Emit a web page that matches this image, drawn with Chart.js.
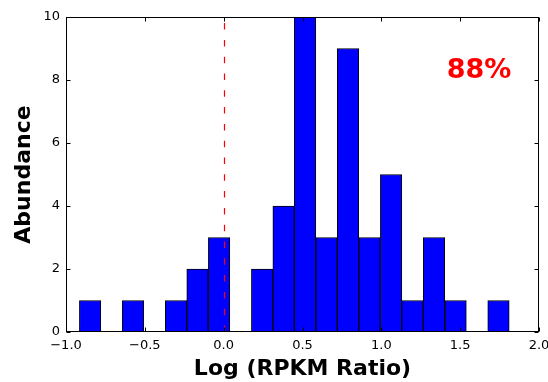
<!DOCTYPE html>
<html>
<head>
<meta charset="utf-8">
<script src="https://cdn.jsdelivr.net/npm/chart.js@4.4.1/dist/chart.umd.min.js"></script>
<style>
  html, body { margin: 0; padding: 0; background: #fff; }
  #wrap { width: 548px; height: 382px; }
</style>
</head>
<body>
<div id="wrap"><canvas id="hist"></canvas></div>
<script>
// histogram bin centres (log RPKM ratio) and counts per bin
var binCenters = [-0.847, -0.711, -0.575, -0.438, -0.302, -0.166, -0.029, 0.107, 0.244, 0.380,
                  0.516, 0.653, 0.789, 0.925, 1.062, 1.198, 1.334, 1.471, 1.607, 1.743];
var binCounts = [1, 0, 1, 0, 1, 2, 3, 0, 2, 4,
                 10, 3, 9, 3, 5, 1, 3, 1, 0, 1];
var xTicks = [-1.0, -0.5, 0.0, 0.5, 1.0, 1.5, 2.0];
var yTicks = [0, 2, 4, 6, 8, 10];
var cutoff = 0.0;
var percentLabel = '88%';

var FONT = "'DejaVu Sans', sans-serif";

function fmtTick(v) {
    return (v < 0 ? '\u2212' : '') + Math.abs(v).toFixed(1);
}

// frame, inward ticks, cutoff line and the percentage label
var decorations = {
    id: 'decorations',
    afterDraw: function (chart) {
        var ctx = chart.ctx;
        var a = chart.chartArea;
        var xs = chart.scales.x, ys = chart.scales.y;
        var L = a.left + 0.5, R = a.right - 0.5, T = a.top + 0.5, B = a.bottom - 0.5;
        ctx.save();

        // dashed cutoff line
        var cx = Math.round(xs.getPixelForValue(cutoff)) + 0.5;
        ctx.strokeStyle = '#ff0000';
        ctx.lineWidth = 1.2;
        ctx.setLineDash([6.5, 10.3]);
        ctx.beginPath();
        ctx.moveTo(cx, a.bottom);
        ctx.lineTo(cx, a.top);
        ctx.stroke();
        ctx.setLineDash([]);

        // box
        ctx.strokeStyle = '#000';
        ctx.lineWidth = 1;
        ctx.strokeRect(L, T, R - L, B - T);

        // inward ticks on all four sides
        ctx.beginPath();
        xTicks.forEach(function (v) {
            var px = Math.round(xs.getPixelForValue(v)) + 0.5;
            ctx.moveTo(px, B); ctx.lineTo(px, B - 4);
            ctx.moveTo(px, T); ctx.lineTo(px, T + 4);
        });
        yTicks.forEach(function (v) {
            var py = Math.round(ys.getPixelForValue(v)) + 0.5;
            ctx.moveTo(L, py); ctx.lineTo(L + 4, py);
            ctx.moveTo(R, py); ctx.lineTo(R - 4, py);
        });
        ctx.stroke();

        // percentage label
        ctx.fillStyle = '#ff0000';
        ctx.font = 'bold 27px ' + FONT;
        ctx.textAlign = 'center';
        ctx.textBaseline = 'alphabetic';
        ctx.fillText(percentLabel, xs.getPixelForValue(1.62), ys.getPixelForValue(8.05));
        ctx.restore();
    }
};

var ctx = document.getElementById('hist').getContext('2d');

var histChart = new Chart(ctx, {
    type: 'bar',
    data: {
        datasets: [{
            data: binCenters.map(function (c, i) { return { x: c, y: binCounts[i] }; }),
            backgroundColor: '#0000ff',
            borderColor: '#000000',
            borderWidth: 1,
            borderSkipped: false,
            barPercentage: 1.0,
            categoryPercentage: 1.0
        }]
    },
    options: {
        responsive: true,
        maintainAspectRatio: false,
        animation: false,
        layout: { padding: { top: 17, right: 9, left: 0, bottom: 0 } },
        plugins: {
            legend: { display: false },
            tooltip: { enabled: false }
        },
        scales: {
            x: {
                type: 'linear',
                offset: false,
                min: -1,
                max: 2,
                afterBuildTicks: function (scale) {
                    scale.ticks = xTicks.map(function (v) { return { value: v }; });
                },
                afterFit: function (scale) {
                    scale.height = 50;
                    scale.paddingLeft = 0;
                    scale.paddingRight = 0;
                },
                grid: { display: false, drawTicks: false },
                border: { display: false },
                ticks: {
                    color: '#000',
                    padding: 6,
                    maxRotation: 0,
                    autoSkip: false,
                    font: { family: FONT, size: 13 },
                    callback: function (v) { return fmtTick(v); }
                },
                title: {
                    display: true,
                    text: 'Log (RPKM Ratio)',
                    color: '#000',
                    padding: { top: 0, bottom: 0 },
                    font: { family: FONT, size: 22, weight: 'bold' }
                }
            },
            y: {
                min: 0,
                max: 10,
                afterBuildTicks: function (scale) {
                    scale.ticks = yTicks.map(function (v) { return { value: v }; });
                },
                afterFit: function (scale) {
                    scale.width = 66;
                    scale.paddingTop = 0;
                    scale.paddingBottom = 0;
                },
                grid: { display: false, drawTicks: false },
                border: { display: false },
                ticks: {
                    color: '#000',
                    padding: 6,
                    font: { family: FONT, size: 13 }
                },
                title: {
                    display: true,
                    text: 'Abundance',
                    color: '#000',
                    padding: { top: 11, bottom: 0 },
                    font: { family: FONT, size: 22, weight: 'bold' }
                }
            }
        }
    },
    plugins: [decorations]
});
</script>
</body>
</html>
